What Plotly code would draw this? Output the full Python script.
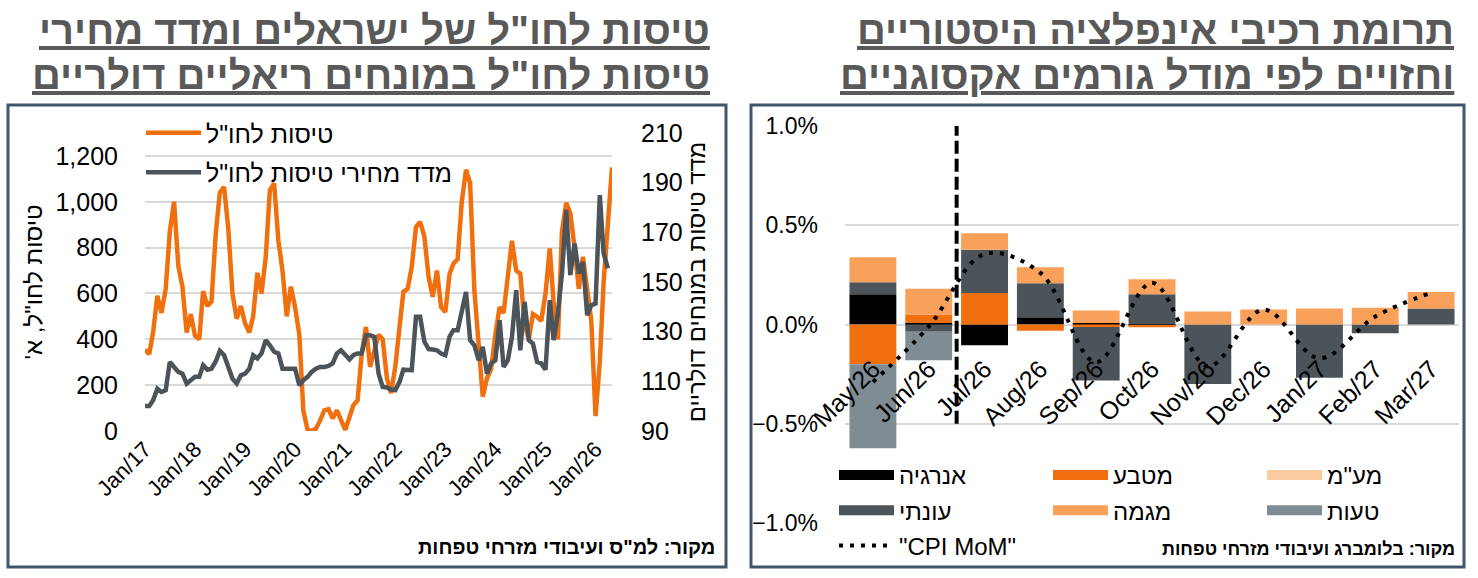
import pandas as pd
import plotly.graph_objects as go

RLM = "\u200f"

# ---- left panel: monthly from Jan/17 ----
start_month = "2017-01-01"
flights_k = [355, 335, 430, 590, 515, 620, 870, 1000, 720, 630, 430, 510,
             415, 400, 610, 545, 565, 860, 1040, 1065, 880, 600, 490, 545,
             470, 430, 500, 690, 600, 760, 1050, 1080, 830, 700, 500, 630,
             540, 420, 90, 5, 0, 10, 45, 90, 95, 55, 90, 45,
             5, 60, 112, 134, 337, 454, 280, 350, 420, 400, 230, 165,
             280, 454, 607, 620, 716, 890, 912, 850, 672, 585, 700, 541,
             519, 686, 730, 750, 1000, 1140, 1080, 614, 367, 150, 230, 270,
             420, 541, 515, 680, 830, 700, 686, 468, 400, 510, 498, 480,
             600, 796, 560, 400, 870, 995, 950, 800, 620, 760, 600, 480,
             65, 300, 650, 900, 1150]
flight_price_idx = [100.1, 100.1, 102.4, 107, 105.7, 106.4, 117.8, 115.8, 113.8, 113.1, 109.1, 110.4,
                    111.8, 111.8, 116.5, 114.7, 115.1, 118, 122.3, 120.5, 115.8, 111.1, 109.1, 112.4,
                    113.1, 115.1, 120.5, 119.2, 121.2, 126.6, 124.5, 121.9, 121.2, 115.1, 115.1, 115.1,
                    115.1, 108.4, 110.4, 111.8, 113.8, 115.1, 115.8, 115.8, 116.2, 117.2, 121.2, 122.5,
                    120.5, 118.8, 120.5, 121.2, 121.2, 128.6, 128.6, 127.9, 113.1, 107.7, 107.5, 106.7,
                    106.4, 109.8, 114.7, 114.5, 114.5, 136, 136, 126, 123, 122.8, 122.5, 121.2,
                    120.5, 128, 130.6, 130.6, 137.3, 146, 126.6, 124.5, 118.5, 123.9, 113.1, 117.2,
                    118.5, 134.6, 115.8, 118.5, 127.9, 146.7, 122.5, 142, 126.6, 125.2, 117.8, 117.2,
                    114.7, 142.7, 126.6, 137.3, 153.4, 179, 152.8, 165.5, 153.4, 158.1, 136.6, 140.7,
                    141.3, 185, 161.5, 155.5]

# ---- right panel: contributions to monthly CPI, % ----
months = ["May/26", "Jun/26", "Jul/26", "Aug/26", "Sep/26", "Oct/26",
          "Nov/26", "Dec/26", "Jan/27", "Feb/27", "Mar/27"]
energy = [0.153, 0.008, -0.104, 0.037, 0.008, -0.006, 0, 0, 0, 0, 0]
currency = [-0.20, 0.043, 0.159, -0.032, -0.012, -0.008, 0, 0, 0, 0, 0]
vat = [0, 0, 0, 0, 0, 0, 0, 0, 0, 0, 0]
seasonal = [0.06, -0.037, 0.217, 0.171, -0.27, 0.153, -0.30, 0, -0.268, -0.044, 0.08]
trend = [0.126, 0.129, 0.084, 0.081, 0.062, 0.075, 0.065, 0.075, 0.08, 0.085, 0.084]
error = [-0.424, -0.143, 0, 0, 0, 0, 0, 0, 0, 0, 0]
cpi_mom = [-0.29, -0.01, 0.355, 0.26, -0.19, 0.21, -0.21, 0.075, -0.17, 0.04, 0.16]
last_actual = "Jun/26"

W, H = 1478, 578
ORANGE = "#F07010"
DARK = "#4D5459"
GRID = "#D9D9D9"
FONT = "Liberation Sans"


def fx(px):
    return px / W


def fy(py):
    return 1 - py / H


flight_dates = pd.date_range(start_month, periods=len(flights_k), freq="MS")
idx_dates = flight_dates[:len(flight_price_idx)]

fig = go.Figure()

fig.add_trace(go.Scatter(x=flight_dates, y=flights_k, name='טיסות לחו"ל',
                         line=dict(color=ORANGE, width=4.5), xaxis="x", yaxis="y",
                         legend="legend", legendgroup="a"))
fig.add_trace(go.Scatter(x=idx_dates, y=flight_price_idx, name='מדד מחירי טיסות לחו"ל',
                         line=dict(color=DARK, width=4.5), xaxis="x", yaxis="y2",
                         legend="legend", legendgroup="b"))

components = [
    ("אנרגיה", energy, "#000000", "legend2"),
    ("מטבע", currency, ORANGE, "legend3"),
    ('מע"מ', vat, "#FBCBA0", "legend4"),
    ("עונתי", seasonal, DARK, "legend2"),
    ("מגמה", trend, "#F9A05A", "legend3"),
    ("טעות", error, "#7F8C93", "legend4"),
]
for name, vals, color, leg in components:
    fig.add_trace(go.Bar(x=months, y=vals, name=name, marker_color=color,
                         marker_line_width=0, xaxis="x2", yaxis="y3", showlegend=False))
for name, vals, color, leg in components:
    # wide swatch legend entries
    fig.add_trace(go.Scatter(x=[None], y=[None], mode="lines", name=name,
                             line=dict(color=color, width=15), xaxis="x2", yaxis="y3",
                             legend=leg, legendgroup=name))

fig.add_trace(go.Scatter(x=months, y=cpi_mom, name='"CPI MoM"', mode="lines",
                         line=dict(color="black", width=4, dash="4px,7px", shape="spline"),
                         xaxis="x2", yaxis="y3", legend="legend2", legendgroup="cpi"))

# forecast separator
sep = months.index(last_actual) + 0.5
fig.add_shape(type="line", xref="x2", yref="y3", x0=sep, x1=sep, y0=-0.5, y1=1.0,
              line=dict(color="black", width=4, dash="13px,5px"))

ydom3 = [fy(523), fy(126)]
leg_common = dict(xanchor="left", yanchor="top", font=dict(size=24), itemwidth=55,
                  tracegroupgap=1, bgcolor="rgba(0,0,0,0)")
fig.update_layout(
    width=W, height=H, margin=dict(l=0, r=0, t=0, b=0, autoexpand=False),
    paper_bgcolor="white", plot_bgcolor="white",
    font=dict(family=FONT, size=20, color="black"),
    barmode="relative", bargap=0.16,
    xaxis=dict(domain=[fx(145), fx(612)], anchor="y", type="date", automargin=False,
               range=[flight_dates[0], flight_dates[-1]],
               tick0=start_month, dtick="M12", tickformat="%b/%y", tickangle=-45,
               showgrid=False, showline=False, ticks="", tickfont=dict(size=22)),
    yaxis=dict(domain=[fy(431), fy(133)], anchor="x", range=[0, 1300], dtick=200,
               automargin=False, tickformat=",d", gridcolor=GRID, gridwidth=2,
               zeroline=False, ticklabelstandoff=26,
               title=dict(text='טיסות לחו"ל, א\'' + RLM, font=dict(size=24), standoff=6),
               tickfont=dict(size=25)),
    yaxis2=dict(overlaying="y", side="right", anchor="x", range=[90, 210], dtick=20,
                tick0=90, automargin=False, showgrid=False, zeroline=False,
                ticklabelstandoff=28,
                title=dict(text="מדד טיסות במונחים דולריים", font=dict(size=24), standoff=6),
                tickfont=dict(size=25)),
    xaxis2=dict(domain=[fx(845), fx(1459)], anchor="free", automargin=False,
                position=(ydom3[0] + ydom3[1]) / 2, type="category",
                tickangle=-45, showgrid=False, showline=False, ticks="",
                ticklabelstandoff=24, tickfont=dict(size=25)),
    yaxis3=dict(domain=ydom3, anchor="x2", range=[-1, 1], dtick=0.5, automargin=False,
                tickformat=".1f", ticksuffix="%", gridcolor=GRID, gridwidth=2,
                zeroline=False, ticklabelstandoff=26, tickfont=dict(size=23)),
    legend=dict(x=fx(141), y=fy(110), xanchor="left", yanchor="top",
                font=dict(size=25), itemwidth=55, tracegroupgap=4,
                bgcolor="rgba(0,0,0,0)"),
    legend2=dict(x=fx(834), y=fy(453), **leg_common),
    legend3=dict(x=fx(1048), y=fy(453), **leg_common),
    legend4=dict(x=fx(1262), y=fy(453), **leg_common),
)

# panel frames
for x0, x1 in [(8, 726), (751, 1464)]:
    fig.add_shape(type="rect", xref="paper", yref="paper", x0=fx(x0), x1=fx(x1),
                  y0=fy(567), y1=fy(105), line=dict(color="#44546A", width=3),
                  layer="above")

TITLE_COLOR = "#595959"
titles = [
    ("תרומת רכיבי אינפלציה היסטוריים", 1456, 30),
    ("וחזויים לפי מודל גורמים אקסוגניים", 1456, 75),
    ('טיסות לחו"ל של ישראלים ומדד מחירי', 712, 30),
    ('טיסות לחו"ל במונחים ריאליים דולריים', 712, 75),
]
for text, x, y in titles:
    fig.add_annotation(text="<b><u>" + text + "</u></b>", xref="paper", yref="paper",
                       x=fx(x), y=fy(y), xanchor="right", yanchor="middle", showarrow=False,
                       font=dict(family=FONT, size=40, color=TITLE_COLOR))

sources = [
    ('מקור: למ"ס ועיבודי מזרחי טפחות', 717, 547, 20),
    ("מקור: בלומברג ועיבודי מזרחי טפחות", 1457, 549, 18),
]
for text, x, y, size in sources:
    fig.add_annotation(text="<b>" + text + "</b>", xref="paper", yref="paper",
                       x=fx(x), y=fy(y), xanchor="right", yanchor="middle", showarrow=False,
                       font=dict(size=size, color="black"))

fig.write_html("out.html", config={"displayModeBar": False},
               post_script="document.body.style.margin='0';"
                           "document.body.style.overflow='hidden';")
